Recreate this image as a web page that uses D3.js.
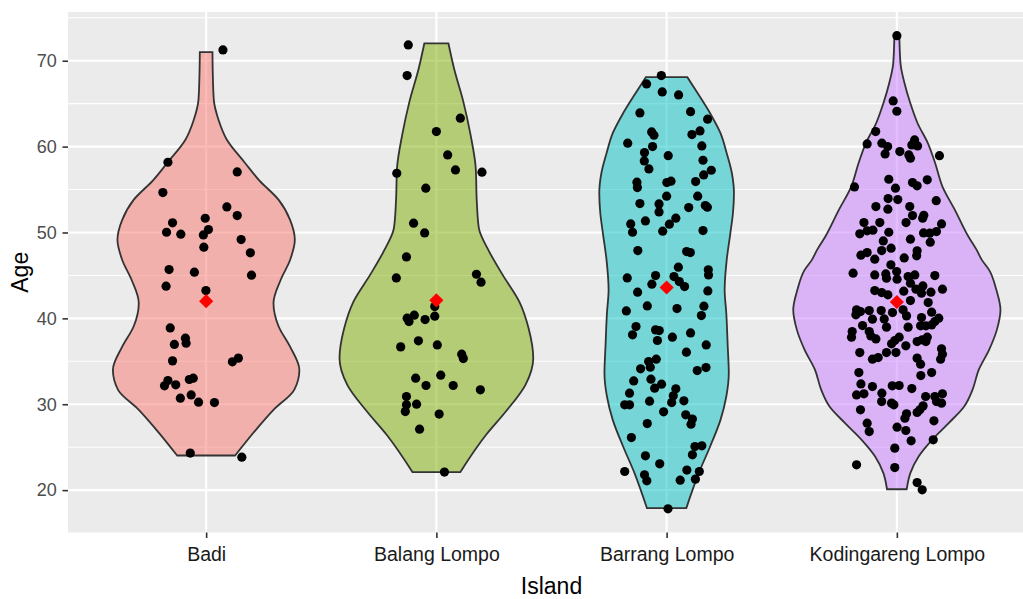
<!DOCTYPE html>
<html>
<head>
<meta charset="utf-8">
<script src="https://cdn.jsdelivr.net/npm/d3@7"></script>
<style>
  body { margin: 0; background: #fff; }
  text { font-family: "Liberation Sans", Arial, Helvetica, sans-serif; }
</style>
</head>
<body>
<script>
// ---- data ----
var islands = ["Badi", "Balang Lompo", "Barrang Lompo", "Kodingareng Lompo"];
var fills = ["#F8766D", "#7CAE00", "#00BFC4", "#C77CFF"];
var meanAge = [42.0, 42.1, 43.6, 41.9];
var yTicks = [20, 30, 40, 50, 60, 70];
var yMinor = [15, 25, 35, 45, 55, 65, 75];

// points: [jitter (share of category step), age]
var badiPoints = [[0.073,71.26],[-0.166,58.18],[0.135,57.05],[-0.188,54.65],[0.090,52.98],[0.135,51.97],
  [-0.004,51.66],[-0.146,51.12],[0.010,50.34],[-0.172,50.03],[-0.110,49.80],[-0.012,49.72],[0.152,49.17],
  [-0.010,48.29],[0.192,47.63],[-0.161,45.68],[-0.051,45.38],[0.197,45.03],[-0.174,43.75],[-0.001,43.24],
  [-0.156,38.89],[-0.090,37.69],[-0.087,37.11],[-0.138,36.96],[-0.146,35.05],[0.114,34.94],[0.140,35.37],
  [-0.166,32.76],[-0.181,32.14],[-0.132,32.26],[-0.073,32.88],[-0.056,33.04],[-0.112,30.71],[-0.065,31.09],
  [-0.033,30.24],[0.036,30.20],[-0.069,24.31],[0.155,23.84]];

var balangPoints = [[-0.122,71.84],[-0.127,68.27],[0.104,63.31],[0.000,61.75],[0.049,59.03],[0.083,57.29],
  [-0.172,56.9],[0.198,57.02],[-0.046,55.16],[-0.099,51.08],[-0.051,49.95],[-0.130,47.16],[-0.174,44.71],
  [0.174,45.14],[0.194,44.21],[-0.127,40.02],[-0.096,40.37],[-0.119,39.63],[-0.049,39.86],[-0.007,40.26],
  [-0.078,37.38],[-0.155,36.68],[0.004,36.91],[0.110,35.83],[0.117,35.32],[-0.090,33.04],[0.019,33.39],
  [-0.045,32.18],[0.073,32.18],[0.191,31.68],[-0.130,30.9],[-0.086,30.01],[-0.130,29.93],[-0.135,29.15],
  [0.012,28.85],[-0.073,27.1],[0.035,22.1],[-0.007,41.37]];

var barrangPoints = [[-0.023,68.27],[-0.087,67.3],[-0.019,66.37],[0.052,66.02],[-0.116,63.92],[0.104,64.07],
  [0.178,63.19],[-0.065,61.71],[-0.055,61.33],[0.110,61.4],[0.145,61.83],[-0.169,60.4],[-0.061,60.0],
  [0.153,60.08],[-0.096,59.3],[0.007,58.95],[-0.097,58.33],[0.158,58.41],[-0.077,57.4],[0.194,57.25],
  [0.161,56.7],[-0.129,55.86],[-0.127,55.23],[0.001,55.81],[0.019,55.97],[0.126,55.93],[0.000,54.23],
  [0.135,54.23],[-0.116,53.37],[-0.033,53.33],[0.096,52.9],[0.168,53.13],[0.177,52.94],[-0.033,52.4],
  [-0.092,51.35],[0.040,51.67],[0.012,50.97],[-0.156,51.0],[-0.148,50.03],[-0.017,50.15],[0.158,50.22],
  [-0.125,47.89],[0.087,47.78],[0.103,47.66],[0.051,45.96],[0.181,45.65],[0.182,45.06],[-0.048,44.98],
  [-0.171,44.71],[0.032,44.87],[-0.064,43.98],[0.055,44.28],[0.078,43.7],[-0.126,43.05],[0.179,43.2],
  [-0.084,41.45],[0.045,41.14],[0.162,41.42],[-0.175,40.87],[0.151,40.33],[-0.133,39.05],[-0.148,38.08],
  [-0.048,38.66],[-0.032,38.58],[-0.040,37.42],[0.025,37.81],[0.104,38.31],[0.172,36.91],[0.086,36.06],
  [-0.045,35.25],[-0.078,34.97],[-0.071,34.32],[-0.113,34.12],[0.133,33.92],[0.171,34.27],[-0.143,32.72],
  [-0.068,32.92],[-0.052,31.87],[-0.022,32.34],[0.040,31.79],[0.029,30.98],[0.022,30.2],[-0.161,31.29],
  [-0.182,29.93],[-0.161,29.93],[-0.074,30.36],[0.075,30.4],[-0.013,29.12],[0.083,28.77],[0.112,28.27],
  [0.106,27.68],[-0.084,27.75],[-0.153,26.12],[0.123,25.08],[0.153,25.16],[0.112,24.11],[-0.092,23.99],
  [-0.030,23.06],[-0.182,22.17],[0.088,22.33],[0.142,22.17],[-0.096,21.78],[-0.086,21.08],[0.059,21.16],
  [0.125,21.28],[0.006,17.82]];

var kodinPoints = [[0.000,72.92],[-0.016,65.32],[0.000,64.12],[-0.092,61.75],[-0.129,60.31],[-0.065,60.4],
  [-0.040,60.0],[-0.051,59.15],[0.013,59.42],[0.077,60.78],[0.065,60.2],[0.090,60.08],[0.052,59.03],
  [0.059,58.65],[0.185,58.95],[-0.184,55.31],[-0.035,56.2],[-0.006,55.16],[0.068,55.81],[0.088,55.43],
  [0.132,56.13],[-0.091,53.02],[-0.038,53.95],[0.004,53.83],[-0.039,52.71],[0.056,53.02],[0.171,53.71],
  [0.068,51.97],[0.117,52.01],[0.112,51.66],[-0.143,51.15],[-0.074,51.15],[0.040,51.15],[0.194,51.0],
  [-0.161,49.84],[-0.129,50.19],[-0.104,50.27],[-0.035,50.03],[0.116,49.95],[0.143,49.92],[0.172,50.11],
  [-0.059,49.02],[0.059,49.22],[0.145,48.87],[-0.025,48.17],[-0.066,47.89],[-0.156,47.36],[-0.129,47.66],
  [-0.096,46.89],[0.032,47.04],[0.088,47.86],[0.086,47.28],[-0.190,45.26],[-0.096,45.06],[-0.048,45.18],
  [-0.026,46.23],[-0.001,45.45],[0.001,44.56],[-0.045,44.68],[0.049,44.87],[0.078,45.06],[0.165,44.98],
  [0.059,44.1],[0.113,43.78],[0.198,43.4],[0.083,43.4],[0.148,43.05],[0.107,42.93],[-0.096,43.24],
  [-0.066,43.0],[-0.039,42.74],[0.030,43.17],[0.059,42.07],[0.136,41.84],[-0.175,40.99],[-0.158,40.79],
  [-0.178,40.41],[-0.120,40.91],[-0.068,40.91],[-0.019,40.68],[0.027,40.99],[0.042,40.29],[0.151,40.72],
  [0.182,40.02],[-0.106,39.91],[-0.055,39.94],[0.107,40.09],[0.165,39.63],[-0.149,39.16],[-0.045,38.98],
  [0.049,38.98],[0.103,39.13],[0.126,39.13],[0.151,39.24],[-0.194,38.46],[-0.197,37.81],[-0.120,38.46],
  [-0.113,37.96],[-0.091,37.61],[0.010,37.81],[-0.009,37.42],[-0.023,37.03],[0.039,36.8],[0.088,37.3],
  [0.110,37.5],[0.132,37.81],[0.126,37.3],[-0.161,36.02],[-0.045,36.02],[-0.004,36.02],[-0.106,35.25],
  [-0.081,35.44],[0.088,35.37],[0.103,34.67],[0.194,36.45],[0.190,35.25],[0.198,35.83],[-0.165,33.69],
  [0.104,33.34],[0.151,33.69],[-0.156,32.37],[-0.106,32.06],[-0.020,32.14],[0.010,32.18],[0.065,31.83],
  [-0.175,31.09],[-0.143,31.21],[-0.065,31.29],[0.125,30.9],[0.198,31.21],[0.165,30.9],[-0.066,30.31],
  [-0.023,30.13],[-0.013,29.93],[0.172,30.31],[0.194,30.13],[0.114,29.81],[0.100,29.35],[0.088,29.04],
  [-0.158,29.35],[0.042,28.88],[0.035,28.38],[-0.129,27.8],[-0.120,26.82],[0.001,27.33],[0.039,26.94],
  [0.161,28.07],[0.158,25.86],[0.062,25.74],[-0.009,24.89],[-0.175,22.95],[-0.009,22.63],[0.088,20.88],
  [0.110,20.03]];

// violin profiles: [age, relative density] (1 = widest violin)
var badiDensity = [[24.03,0.28],[27.02,0.48],[29.35,0.65],[31.68,0.85],[34.0,0.90],[36.7,0.81],[39.05,0.70],
  [41.77,0.65],[44.5,0.72],[46.8,0.81],[49.14,0.856],[51.47,0.81],[53.8,0.70],[56.1,0.51],[58.18,0.37],
  [60.8,0.20],[63.1,0.12],[65.44,0.074],[68.55,0.064],[71.0,0.061]];
var balangDensity = [[22.09,0.23],[26.44,0.48],[29.15,0.67],[32.26,0.86],[35.36,0.935],[38.86,0.89],
  [41.96,0.80],[45.06,0.64],[47.78,0.51],[50.5,0.41],[53.6,0.39],[57.48,0.38],[61.36,0.33],[65.24,0.26],
  [69.12,0.17],[72.03,0.116]];
var barrangDensity = [[17.9,0.19],[21.98,0.31],[25.08,0.42],[28.18,0.52],[30.9,0.576],[33.62,0.60],
  [36.72,0.59],[40.6,0.576],[43.32,0.56],[46.81,0.58],[49.91,0.615],[52.24,0.64],[54.57,0.65],[56.9,0.63],
  [59.23,0.58],[61.56,0.52],[63.88,0.42],[66.21,0.30],[68.08,0.20]];
var kodinDensity = [[20.1,0.095],[21.98,0.13],[23.92,0.21],[25.86,0.34],[27.8,0.50],[29.74,0.65],
  [31.68,0.73],[34.0,0.79],[36.33,0.89],[38.66,0.965],[40.99,1.0],[43.32,0.96],[45.65,0.89],[46.81,0.82],
  [47.97,0.77],[49.53,0.69],[52.63,0.56],[55.35,0.44],[58.06,0.37],[60.39,0.30],[62.72,0.20],[65.05,0.13],
  [67.38,0.074],[69.71,0.035],[72.93,0.024]];

var points = [badiPoints, balangPoints, barrangPoints, kodinPoints];
var densities = [badiDensity, balangDensity, barrangDensity, kodinDensity];

// ---- chart ----
var svgWidth = 1023, svgHeight = 599;
var panel = { left: 68, right: 1035, top: 12, bottom: 532.5 };

var svg = d3.select("body").append("svg")
  .attr("width", svgWidth)
  .attr("height", svgHeight);

var x = d3.scaleLinear().domain([0.4, 4.6]).range([panel.left, panel.right]);
var step = x(2) - x(1);

var allAges = points.flat().map(d => d[1]);
var ext = d3.extent(allAges);
var pad = (ext[1] - ext[0]) * 0.05;
var y = d3.scaleLinear().domain([ext[0] - pad, ext[1] + pad]).range([panel.bottom, panel.top]);
var halfW = d3.scaleLinear().domain([0, 1]).range([0, 0.45 * step]);

// panel background
svg.append("rect")
  .attr("x", panel.left).attr("y", panel.top)
  .attr("width", panel.right - panel.left).attr("height", panel.bottom - panel.top)
  .attr("fill", "#EBEBEB");

var grid = svg.append("g");
grid.selectAll(".minor").data(yMinor.filter(v => v > y.domain()[0] && v < y.domain()[1]))
  .enter().append("line")
  .attr("x1", panel.left).attr("x2", panel.right)
  .attr("y1", d => y(d)).attr("y2", d => y(d))
  .attr("stroke", "#fff").attr("stroke-width", 1.1);
grid.selectAll(".major").data(yTicks)
  .enter().append("line")
  .attr("x1", panel.left).attr("x2", panel.right)
  .attr("y1", d => y(d)).attr("y2", d => y(d))
  .attr("stroke", "#fff").attr("stroke-width", 2.1);
grid.selectAll(".vmajor").data(islands)
  .enter().append("line")
  .attr("x1", (d, i) => x(i + 1)).attr("x2", (d, i) => x(i + 1))
  .attr("y1", panel.top).attr("y2", panel.bottom)
  .attr("stroke", "#fff").attr("stroke-width", 2.1);

// violins
islands.forEach(function(name, i) {
  var cx = x(i + 1);
  var area = d3.area()
    .curve(d3.curveMonotoneY)
    .y(d => y(d[0]))
    .x0(d => cx - halfW(d[1]))
    .x1(d => cx + halfW(d[1]));
  svg.append("path")
    .datum(densities[i])
    .attr("d", area)
    .attr("fill", fills[i])
    .attr("fill-opacity", 0.5)
    .attr("stroke", "#333333")
    .attr("stroke-width", 1.8);
});

// jittered points
islands.forEach(function(name, i) {
  var cx = x(i + 1);
  svg.append("g").selectAll("circle")
    .data(points[i])
    .enter().append("circle")
    .attr("cx", d => cx + d[0] * step)
    .attr("cy", d => y(d[1]))
    .attr("r", 4.6)
    .attr("fill", "#000");
});

// means
svg.append("g").selectAll("path")
  .data(meanAge)
  .enter().append("path")
  .attr("d", d3.symbol().type(d3.symbolSquare).size(100))
  .attr("transform", (d, i) => `translate(${x(i + 1)}, ${y(d)}) rotate(45)`)
  .attr("fill", "#FF0000");

// axes
var leftAxis = d3.axisLeft(y).tickValues(yTicks).tickSize(5.5).tickPadding(5.8);
var gy = svg.append("g")
  .attr("transform", `translate(${panel.left}, 0)`)
  .call(leftAxis);
gy.select(".domain").remove();
gy.selectAll("line").attr("stroke", "#333333").attr("stroke-width", 1.6);
gy.selectAll("text").attr("fill", "#4D4D4D").style("font-size", "18px");

var bottomAxis = d3.axisBottom(x).tickValues([1, 2, 3, 4])
  .tickFormat(d => islands[d - 1]).tickSize(5.5).tickPadding(9.5);
var gx = svg.append("g")
  .attr("transform", `translate(0, ${panel.bottom})`)
  .call(bottomAxis);
gx.select(".domain").remove();
gx.selectAll("line").attr("stroke", "#333333").attr("stroke-width", 1.6);
gx.selectAll("text").attr("fill", "#1A1A1A").style("font-size", "19.5px");

// axis titles
svg.append("text")
  .attr("transform", `translate(${(panel.left + panel.right) / 2}, 593.5)`)
  .attr("text-anchor", "middle")
  .style("font-size", "23px")
  .text("Island");

svg.append("text")
  .attr("transform", `translate(28, ${(panel.top + panel.bottom) / 2}) rotate(-90)`)
  .attr("text-anchor", "middle")
  .style("font-size", "23px")
  .text("Age");
</script>
</body>
</html>
